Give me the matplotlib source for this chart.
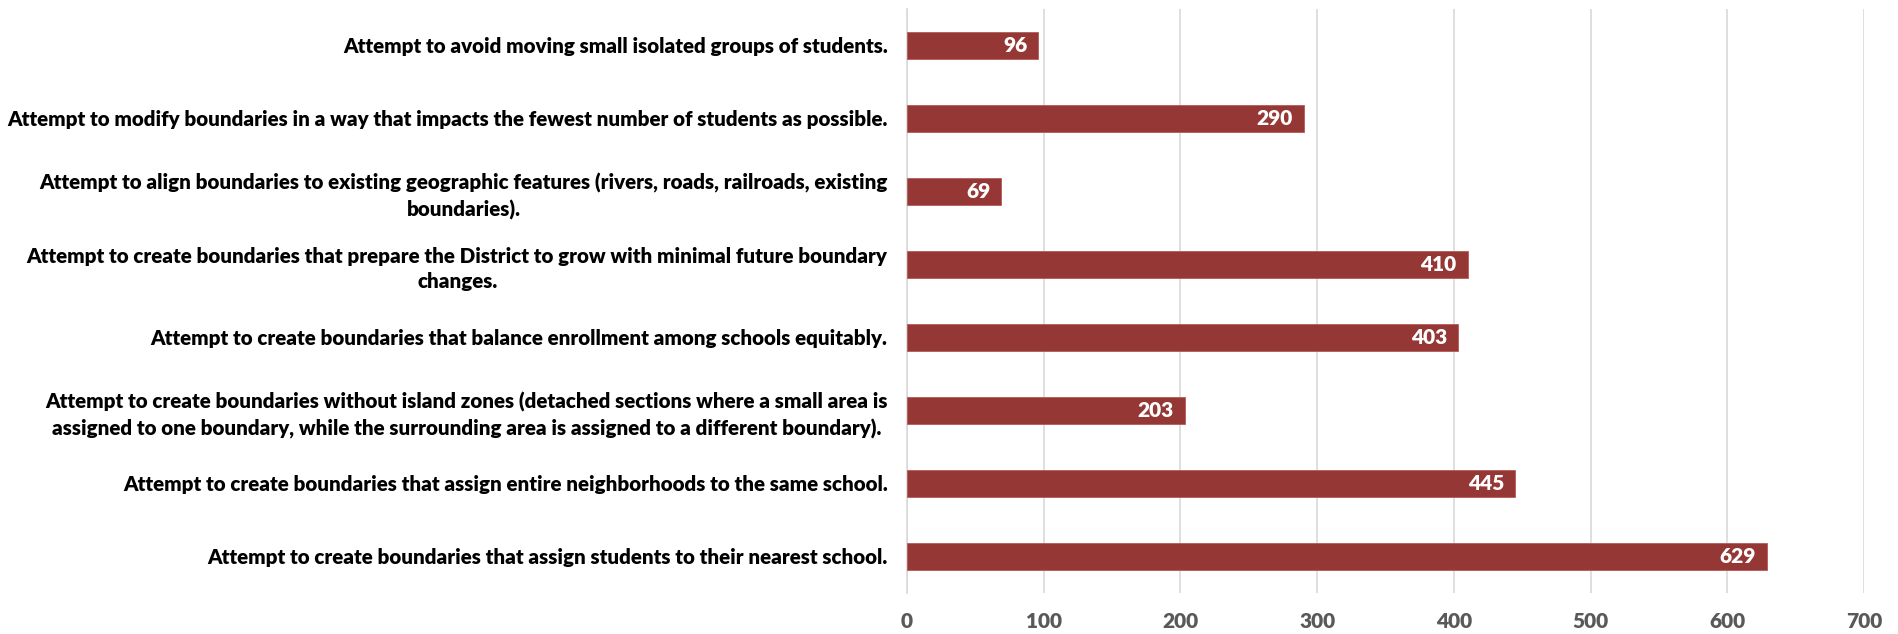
import matplotlib
matplotlib.use('Agg')
from matplotlib import pyplot as plt

# data (top to bottom as shown)
labels = [
    'Attempt to avoid moving small isolated groups of students.',
    'Attempt to modify boundaries in a way that impacts the fewest number of students as possible.',
    'Attempt to align boundaries to existing geographic features (rivers, roads, railroads, existing\nboundaries).',
    'Attempt to create boundaries that prepare the District to grow with minimal future boundary\nchanges.',
    'Attempt to create boundaries that balance enrollment among schools equitably.',
    'Attempt to create boundaries without island zones (detached sections where a small area is\nassigned to one boundary, while the surrounding area is assigned to a different boundary).',
    'Attempt to create boundaries that assign entire neighborhoods to the same school.',
    'Attempt to create boundaries that assign students to their nearest school.',
]
values = [96, 290, 69, 410, 403, 203, 445, 629]
xticks = [0, 100, 200, 300, 400, 500, 600, 700]

bar_color = '#953735'
font = ['Lato', 'DejaVu Sans']

fig = plt.figure(figsize=(18.98, 6.34), dpi=100)
ax = fig.add_axes([0.4779, 0.0647, 0.5042, 0.9213])

y = list(range(len(values)))
ax.barh(y, values, height=0.36, color=bar_color, edgecolor='#b45a58', linewidth=0.6, zorder=3)

for yi, v in zip(y, values):
    ax.annotate(str(v), xy=(v, yi), xytext=(-8, 0), textcoords='offset points',
                ha='right', va='center', color='white', fontsize=15,
                fontweight='heavy', family=font, zorder=4)

ax.set_xlim(0, 700)
ax.set_ylim(len(values) - 0.5, -0.5)
ax.set_xticks(xticks)
ax.set_xticklabels([str(t) for t in xticks], fontsize=15, fontweight='heavy',
                   color='#595959', family=font)
ax.set_yticks(y)
ax.set_yticklabels(labels, fontsize=14.8, fontweight='heavy', color='black',
                   family=font, multialignment='center', linespacing=1.4)
ax.tick_params(axis='both', length=0)
ax.tick_params(axis='y', pad=14)
ax.tick_params(axis='x', pad=14)

ax.grid(axis='x', color='#d9d9d9', linewidth=1.2, zorder=0)
for s in ['top', 'right', 'bottom']:
    ax.spines[s].set_visible(False)
ax.spines['left'].set_color('#d9d9d9')
ax.spines['left'].set_linewidth(1.2)

plt.savefig('out.png', dpi=100)
